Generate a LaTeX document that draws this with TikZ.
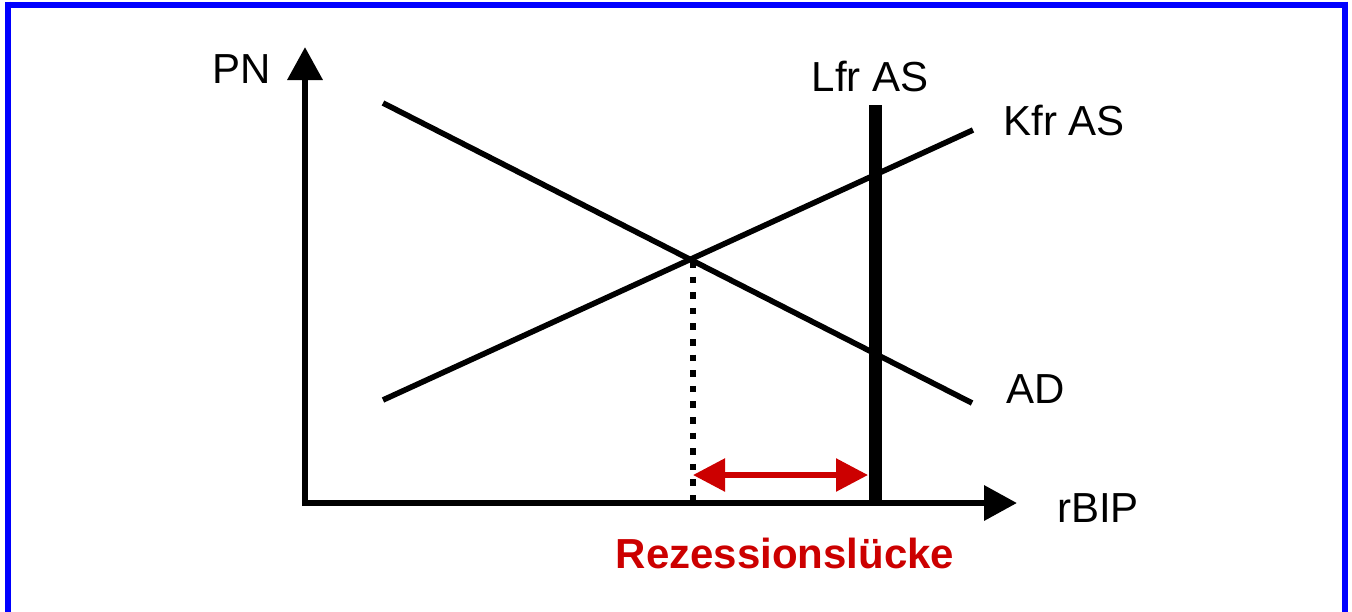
\documentclass[tikz,border=0pt]{standalone}
\usepackage{fontspec}
\setmainfont{Liberation Sans}
\usetikzlibrary{arrows.meta}
\definecolor{frameblue}{RGB}{0,0,255}
\definecolor{gapred}{RGB}{204,0,0}
\tikzset{
  axisline/.style={line width=3.3pt, -{Triangle[length=16.5pt,width=17pt]}},
  curveline/.style={line width=2.8pt},
  lfrline/.style={line width=6.5pt},
  dotline/.style={line width=3pt, dash pattern=on 3.3pt off 4.5pt},
  gaparrow/.style={gapred, line width=2.8pt, {Triangle[length=16pt,width=16pt]}-{Triangle[length=16pt,width=16pt]}},
  lbl/.style={font=\fontsize{21pt}{25pt}\selectfont, inner sep=0pt, anchor=base},
  gaplbl/.style={font=\fontsize{21pt}{25pt}\selectfont\bfseries, text=gapred, inner sep=0pt, anchor=base}
}
\begin{document}
\begin{tikzpicture}[x=0.5pt,y=-0.5pt]
\useasboundingbox (0,0) rectangle (1352,611);
% frame
\draw[frameblue, line width=3pt] (8,4.5) -- (1344.5,4.5);
\draw[frameblue, line width=3pt] (8,1.5) -- (8,615);
\draw[frameblue, line width=3pt] (1344.5,1.5) -- (1344.5,615);
% axes
\coordinate (O) at (302,503);
\coordinate (ytop) at (305,47);
\coordinate (xend) at (1017,503);
\draw[axisline] (305,506) -- (ytop);
\draw[axisline] (302,503) -- (xend);
% curves
\coordinate (ad1) at (383,103);
\coordinate (ad2) at (972,403);
\coordinate (as1) at (383,400);
\coordinate (as2) at (973,130);
\draw[curveline] (ad1) -- (ad2);
\draw[curveline] (as1) -- (as2);
% Lfr AS
\coordinate (lfrtop) at (875,105);
\coordinate (lfrbot) at (875,503);
\draw[lfrline] (lfrtop) -- (lfrbot);
% equilibrium dotted line
\coordinate (eq) at (693,261);
\coordinate (eqbot) at (693,503);
\draw[dotline] (eq) -- (eqbot);
% gap arrow
\coordinate (gapL) at (693,475);
\coordinate (gapR) at (868,475);
\draw[gaparrow] (gapL) -- (gapR);
% labels
\node[lbl] (pn) at (242,83) {PN};
\node[lbl] (lfr) at (870,91) {Lfr AS};
\node[lbl] (kfr) at (1064,135) {Kfr AS};
\node[lbl] (ad) at (1036,403) {AD};
\node[lbl] (rbip) at (1098,522) {rBIP};
\node[gaplbl] (gap) at (785,568) {Rezessionslücke};
\end{tikzpicture}
\end{document}
